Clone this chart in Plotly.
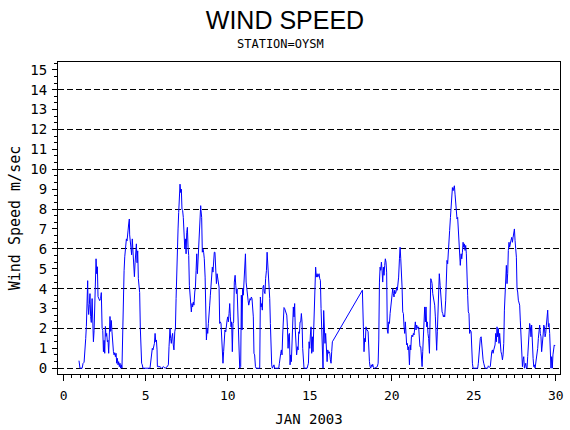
import plotly.graph_objects as go

# hourly wind speed, Jan 2003, station OYSM (day of month, m/sec)
days_a = [0.93, 0.99, 1.12, 1.18, 1.24, 1.28, 1.34, 1.38, 1.42, 1.46, 1.48, 1.52, 1.56, 1.60, 1.64,
          1.68, 1.73, 1.77, 1.81, 1.85, 1.89, 1.93, 1.97, 2.01, 2.05, 2.09, 2.13, 2.19, 2.25, 2.29,
          2.34, 2.38, 2.42, 2.46, 2.50, 2.54, 2.58, 2.62, 2.66, 2.70, 2.74, 2.78, 2.82, 2.86, 2.90,
          2.94, 2.99, 3.03, 3.07, 3.11, 3.15, 3.19, 3.23, 3.27, 3.31, 3.35, 3.39, 3.43, 3.47, 3.51,
          3.55, 3.62, 3.68, 3.72, 3.78, 3.82, 3.86, 3.88, 3.92, 3.96, 4.00, 4.02, 4.06, 4.10, 4.14,
          4.18, 4.23, 4.27, 4.31, 4.35, 4.39, 4.43, 4.47, 4.51, 4.55, 4.59, 4.63, 4.67, 4.71, 4.75,
          4.79, 4.83, 5.26]
speed_a = [0.38, 0, 0, 0.25, 0.3, 1.1, 1.5, 2.1, 3.6, 4.4, 3.25, 2.7, 3.2, 3.75, 2.6,
           2.3, 3.5, 1.75, 1.33, 1.9, 3.25, 4.9, 5.5, 4.75, 5.1, 3.6, 3.5, 3.4, 3.5, 3.8,
           2.0, 1.9, 0.83, 1.4, 0.75, 2.1, 1.6, 1.75, 1.33, 1.4, 0.75, 1.6, 2.6, 1.85, 2.4,
           1.85, 0.83, 0.83, 0.67, 0.78, 0.58, 0.75, 0.25, 0.5, 0.17, 0.33, 0.08, 0.25, 0, 0.17,
           0, 3.9, 4.9, 5.6, 6.2, 6.5, 6.4, 6.8, 6.9, 7.25, 7.5, 6.7, 6.3, 6.1, 5.7,
           6.5, 5.9, 5.2, 4.6, 5.3, 5.9, 6.25, 5.3, 5.9, 4.5, 4.0, 3.8, 2.0, 0.58, 0.25,
           0.17, 0, 0]

days_b = [5.30, 5.36, 5.40, 5.44, 5.49, 5.53, 5.57, 5.61, 5.65, 5.69, 5.71, 5.77, 5.81, 5.85, 5.89,
          5.97, 6.07, 6.18, 6.28, 6.34, 6.38, 6.42, 6.48, 6.52, 6.56, 6.60, 6.64, 6.68, 6.72, 6.77,
          6.81, 6.85, 6.89, 6.93, 6.97, 7.01, 7.05, 7.09, 7.13, 7.17, 7.21, 7.25, 7.29, 7.33, 7.38,
          7.42, 7.46, 7.50, 7.54, 7.58, 7.62, 7.66, 7.70, 7.74, 7.78, 7.82, 7.86, 7.90, 7.94, 7.99,
          8.03, 8.07, 8.11, 8.15, 8.19, 8.23, 8.27, 8.31, 8.35, 8.37, 8.41, 8.45, 8.49, 8.53, 8.57,
          8.62, 8.66, 8.70, 8.74, 8.78, 8.82, 8.86, 8.90, 8.94, 8.98, 9.02, 9.06, 9.10, 9.14, 9.18,
          9.22, 9.27, 9.31, 9.35, 9.39, 9.43, 9.47, 9.51, 9.55, 9.59, 9.63, 9.67, 9.71, 9.75, 9.79,
          9.83, 9.88, 9.92, 9.96, 10.00, 10.04, 10.08, 10.12, 10.16, 10.20, 10.24, 10.28, 10.32,
          10.36, 10.40]
speed_b = [0.42, 0.83, 1.0, 0.92, 1.17, 1.25, 1.75, 1.33, 1.42, 0.92, 0.08, 0.1, 0.05, 0.1, 0.05,
           0, 0.08, 0, 0.05, 0.1, 0.17, 1.08, 2.0, 1.5, 1.25, 1.58, 1.75, 1.17, 0.92, 1.83,
           2.0, 3.5, 5.08, 6.42, 7.0, 7.83, 8.67, 9.25, 8.83, 9.0, 8.0, 7.92, 7.58, 6.58, 6.0,
           6.5, 5.75, 6.83, 7.08, 6.08, 5.67, 4.17, 3.5, 3.42, 2.83, 3.25, 3.08, 3.33, 3.17, 3.83,
           4.08, 4.92, 5.75, 4.75, 5.42, 6.67, 7.25, 8.08, 8.17, 7.92, 7.58, 5.83, 6.0, 5.83, 5.5,
           4.58, 3.08, 1.42, 2.0, 1.75, 2.25, 2.58, 3.17, 3.67, 4.17, 4.42, 5.08, 4.83, 5.75, 5.83,
           5.83, 4.92, 4.25, 4.75, 4.5, 4.17, 4.08, 2.25, 2.33, 2.25, 1.75, 0.83, 0.25, 0.83, 1.75,
           1.92, 1.83, 2.33, 2.42, 2.58, 2.33, 2.75, 3.25, 2.58, 2.08, 2.33, 0.83, 2.25,
           2.33, 4.33]

days_c = [10.45, 10.49, 10.53, 10.57, 10.61, 10.65, 10.69, 10.73, 10.79, 10.83, 10.87, 10.91, 10.95,
          10.99, 11.03, 11.08, 11.12, 11.16, 11.20, 11.24, 11.28, 11.32, 11.36, 11.40, 11.44, 11.48,
          11.52, 11.56, 11.60, 11.64, 11.69, 11.73, 11.87, 11.95, 11.99, 12.03, 12.07, 12.11, 12.15,
          12.19, 12.23, 12.27, 12.31, 12.36, 12.40, 12.44, 12.48, 12.52, 12.56, 12.60, 12.64, 12.68,
          12.72, 12.78, 12.82, 12.86, 13.11, 13.15, 13.19, 13.23, 13.27, 13.31, 13.35, 13.39, 13.43,
          13.47, 13.51, 13.56, 13.60, 13.64, 13.68, 13.72, 13.76, 13.80, 13.84, 13.88, 13.92, 13.96,
          14.00, 14.04, 14.08, 14.12, 14.16, 14.20, 14.25, 14.29, 14.33, 14.37, 14.41, 14.45, 14.49,
          14.53, 14.57, 14.61, 14.65, 14.84, 14.88, 14.92, 14.96, 15.00, 15.04, 15.08, 15.12, 15.16,
          15.20, 15.24, 15.28, 15.32, 15.36, 15.40, 15.45, 15.49, 15.53, 15.57, 15.61, 15.65, 15.69,
          15.73, 15.77, 15.81, 15.85, 15.89, 15.93, 15.97, 16.01, 16.06, 16.10, 16.14, 16.18, 16.22,
          16.26, 16.30, 16.34, 16.38]
speed_c = [4.67, 4.17, 3.75, 4.0, 3.0, 1.67, 0, 0, 0.08, 3.67, 1.92, 4.0, 3.67,
           4.25, 4.92, 5.75, 4.33, 3.92, 3.5, 3.42, 3.17, 3.33, 3.5, 3.42, 3.58, 3.5,
           2.75, 2.58, 0.75, 0.67, 0.08, 0, 0, 0, 3.58, 3.08, 3.25, 2.92, 4.08,
           4.17, 3.83, 3.75, 4.5, 4.92, 5.83, 5.33, 5.0, 3.92, 3.5, 2.25, 0.83, 0.17,
           0, 0.1, 0.17, 0, 0, 0.25, 0.67, 0.75, 0.92, 0.67, 1.67, 2.42, 3.05,
           3.0, 2.92, 2.75, 2.67, 2.08, 1.0, 1.67, 1.75, 0.17, 0.67, 0.33, 1.58, 2.42,
           3.08, 2.58, 3.25, 1.92, 1.08, 0.67, 1.08, 0.92, 1.83, 1.75, 2.33, 2.33, 2.75,
           2.33, 1.0, 0.17, 0, 0, 0.08, 0.25, 1.33, 1.0, 1.67, 2.08, 0.75, 1.58,
           0.83, 1.75, 3.25, 4.17, 5.08, 4.58, 4.75, 4.58, 4.67, 4.75, 4.5, 4.42, 3.0,
           1.92, 0, 0, 2.9, 1.75, 1.25, 1.75, 1.25, 0.33, 0.92, 0.75, 0.83, 0.75,
           0.42, 0.25, 0.83, 1.33]

days_d = [18.21, 18.23, 18.27, 18.31, 18.35, 18.39, 18.43, 18.47, 18.51, 18.56, 18.60, 18.64, 18.68,
          18.72, 18.76, 18.80, 18.84, 18.88, 18.96, 19.04, 19.12, 19.17, 19.21, 19.25, 19.29, 19.33,
          19.37, 19.41, 19.45, 19.49, 19.53, 19.57, 19.61, 19.65, 19.69, 19.73, 19.77, 19.82, 19.86,
          19.90, 19.94, 19.98, 20.02, 20.06, 20.10, 20.14, 20.18, 20.22, 20.26, 20.30, 20.34, 20.38,
          20.42, 20.47, 20.51, 20.55, 20.59, 20.63, 20.67, 20.71, 20.75, 20.79, 20.83, 20.87, 20.91,
          20.95, 20.99, 21.03, 21.08, 21.12, 21.16, 21.20, 21.24, 21.28, 21.32, 21.36, 21.40, 21.44,
          21.48, 21.52, 21.56, 21.60, 21.64, 21.68, 21.72, 21.77, 21.81, 21.85, 21.89, 21.93, 21.97,
          22.01, 22.05, 22.09, 22.13, 22.17, 22.21, 22.25, 22.30, 22.34, 22.38, 22.42, 22.46, 22.50,
          22.54, 22.58, 22.62, 22.66, 22.70, 22.74, 22.78, 22.82, 22.86, 22.90, 22.95, 22.99, 23.03,
          23.07, 23.11, 23.15, 23.19, 23.23]
speed_d = [3.92, 2.75, 2.08, 0.83, 1.5, 1.33, 2.08, 1.92, 1.92, 1.83, 0.83, 0.33, 0.08,
           0, 0.17, 0.08, 0.2, 0.05, 0, 0.05, 0.08, 0.25, 1.42, 4.33, 5.08, 4.92,
           5.33, 4.92, 4.33, 5.08, 4.67, 5.17, 5.5, 5.33, 4.83, 1.92, 1.75, 2.33, 2.25,
           2.75, 3.08, 3.58, 3.67, 4.0, 3.75, 3.58, 3.92, 3.75, 3.83, 4.08, 3.92, 4.25,
           4.58, 5.5, 6.08, 5.5, 4.92, 4.08, 2.83, 2.75, 2.08, 1.75, 2.33, 1.42, 1.17,
           1.25, 0.92, 1.08, 0.17, 1.17, 0.92, 1.58, 1.67, 1.58, 1.75, 1.67, 1.92, 2.33,
           1.92, 2.17, 2.08, 2.0, 2.08, 1.75, 1.08, 1.08, 0.33, 0.08, 0.83, 1.67, 2.58,
           3.08, 2.33, 3.08, 2.08, 2.33, 1.75, 1.5, 0.75, 2.75, 4.5, 4.42, 4.25, 3.75,
           3.5, 3.5, 3.17, 2.58, 1.5, 0.9, 1.83, 2.83, 4.0, 4.75, 4.17, 3.67, 3.0,
           2.83, 2.75, 2.58, 2.67, 2.58]

days_e = [23.29, 23.33, 23.37, 23.41, 23.45, 23.49, 23.53, 23.58, 23.62, 23.66, 23.70, 23.74, 23.78,
          23.82, 23.86, 23.90, 23.94, 23.98, 24.02, 24.06, 24.10, 24.14, 24.18, 24.23, 24.27, 24.31,
          24.35, 24.39, 24.43, 24.47, 24.51, 24.55, 24.59, 24.63, 24.67, 24.71, 24.75, 24.79, 24.84,
          24.88, 24.92, 24.96, 25.24, 25.28, 25.32, 25.36, 25.40, 25.45, 25.49, 25.53, 25.57, 25.61,
          25.65, 25.69, 25.85, 25.89, 25.93, 25.97, 26.01, 26.05, 26.10, 26.14, 26.18, 26.22, 26.26,
          26.30, 26.34, 26.38, 26.42, 26.46, 26.50, 26.54, 26.58, 26.62, 26.66, 26.71, 26.75, 26.79,
          26.83, 26.87, 26.91, 26.95, 26.99, 27.03, 27.07, 27.11, 27.15, 27.19, 27.23, 27.27, 27.32,
          27.36, 27.40, 27.44, 27.48, 27.52, 27.56, 27.60, 27.64, 27.68, 27.72, 27.76, 27.80, 27.84,
          27.88, 27.93, 27.97, 28.01, 28.05, 28.09, 28.13, 28.17, 28.21, 28.25, 28.29, 28.33, 28.37,
          28.41, 28.45, 28.49, 28.53, 28.58, 28.62, 28.66, 28.70, 28.74, 28.78, 28.82, 28.86, 28.90,
          28.94, 28.98, 29.02, 29.06, 29.10, 29.14, 29.18, 29.23, 29.27, 29.31, 29.35, 29.39, 29.43,
          29.47, 29.51, 29.55, 29.59, 29.63, 29.67, 29.71, 29.75, 29.79, 29.83, 29.87, 29.91, 29.96]
speed_e = [3.42, 5.25, 5.42, 5.25, 5.67, 6.42, 6.92, 7.58, 8.08, 8.58, 9.08, 8.92, 9.0,
           9.17, 8.75, 8.33, 7.58, 7.5, 7.58, 6.75, 6.0, 5.75, 5.17, 5.75, 5.5, 5.83,
           6.33, 6.08, 6.25, 5.92, 6.17, 5.75, 5.08, 3.67, 2.83, 2.75, 1.75, 1.92, 1.83,
           0.75, 0.25, 0, 0, 0.25, 0.83, 1.25, 1.5, 1.58, 1.08, 0.75, 0.42, 0.25,
           0.08, 0, 0, 0.12, 0.08, 0.05, 0.08, 0.5, 0.83, 0.92, 0.75, 0.92, 1.17,
           1.17, 1.75, 1.33, 2.08, 1.58, 2.0, 1.25, 1.75, 1.17, 0.83, 0.67, 0.42, 0.67,
           1.25, 2.92, 4.08, 4.17, 5.17, 4.25, 4.75, 5.92, 6.33, 6.08, 6.42, 6.42, 6.58,
           6.33, 6.58, 6.75, 7.0, 6.42, 6.0, 5.58, 4.0, 3.83, 3.42, 3.25, 3.17, 2.42,
           1.58, 0.58, 0.08, 0.42, 0.58, 0, 0.08, 0.25, 0, 0, 0.58, 1.17, 1.58,
           2.25, 2.08, 1.58, 2.17, 0.83, 0.5, 0.08, 0.17, 0, 0.25, 0.42, 0.75, 1.0,
           1.5, 1.92, 2.17, 1.75, 1.58, 0.83, 1.08, 1.67, 2.17, 2.08, 1.58, 1.75, 2.17,
           2.5, 2.92, 2.08, 2.25, 1.75, 1.0, 0, 0.58, 0, 0.67, 1.08, 1.17, 1.12]

days = days_a + days_b + days_c + days_d + days_e
speed = speed_a + speed_b + speed_c + speed_d + speed_e

MONO = "DejaVu Sans Mono"

fig = go.Figure()
fig.add_trace(go.Scatter(x=days, y=speed, mode="lines",
                         line=dict(color="#0000ff", width=1), showlegend=False))
# empty trace so the dashed reference axis gets drawn
fig.add_trace(go.Scatter(x=[], y=[], yaxis="y2", showlegend=False))

fig.update_layout(
    width=570, height=430,
    margin=dict(l=58, r=10, t=62, b=56),
    paper_bgcolor="white", plot_bgcolor="white",
    title=dict(text="WIND SPEED", x=0.5, xanchor="center", y=0.953, yanchor="middle",
               font=dict(family="Liberation Sans", size=25, color="black")),
    xaxis=dict(range=[-0.35, 30.26], dtick=5, tick0=0, ticks="outside", ticklen=6,
               tickcolor="black", showgrid=False, zeroline=False, automargin=False,
               showline=True, linecolor="black", linewidth=1, mirror=True,
               tickfont=dict(family=MONO, size=13, color="black"), ticklabelstandoff=3,
               minor=dict(dtick=0.5, ticks="outside", ticklen=3, tickcolor="black"),
               title=dict(text="JAN 2003", standoff=12,
                          font=dict(family=MONO, size=14, color="black"))),
    yaxis=dict(range=[-0.29, 15.39], dtick=1, tick0=0, ticks="outside", ticklen=5,
               tickcolor="black", showgrid=False, zeroline=False, automargin=False,
               showline=True, linecolor="black", linewidth=1, mirror=True,
               tickfont=dict(family=MONO, size=14, color="black"), ticklabelstandoff=2,
               minor=dict(dtick=1 / 3, ticks="outside", ticklen=3, tickcolor="black"),
               title=dict(text="Wind Speed m/sec", standoff=6,
                          font=dict(family=MONO, size=15, color="black"))),
    yaxis2=dict(range=[-0.29, 15.39], dtick=2, tick0=0, overlaying="y", side="left",
                showgrid=True, gridcolor="black", gridwidth=1, griddash="6px,3px",
                automargin=False, showticklabels=False, ticks="", zeroline=False,
                showline=False),
    annotations=[dict(text="STATION=OYSM", x=0.444, xref="paper", y=1.058, yref="paper",
                      xanchor="center", yanchor="middle", showarrow=False,
                      font=dict(family=MONO, size=12, color="black"))],
)

# the page's default body margin would push the figure 8px off the window
fig.write_html("out.html", config={"displayModeBar": False},
               post_script="document.body.style.margin = '0px';")
